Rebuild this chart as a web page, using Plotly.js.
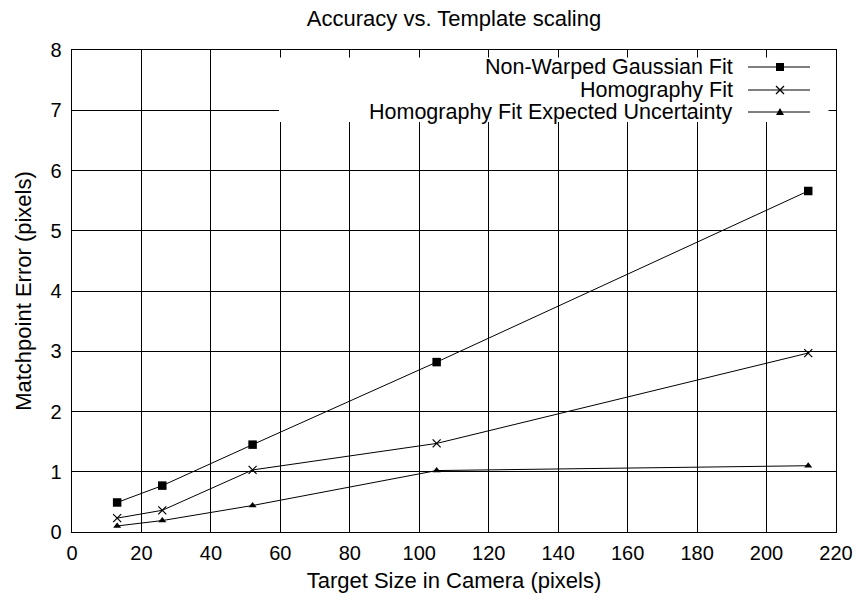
<!DOCTYPE html>
<html>
<head>
<meta charset="utf-8">
<script src="https://cdn.plot.ly/plotly-3.0.1.min.js"></script>
<style>html,body{margin:0;padding:0;background:#fff;}#chart{width:857px;height:601px;}</style>
</head>
<body>
<div id="chart"></div>
<script>
// ---- data ----
const targetSize = [13, 26, 52, 105, 212];
const nonWarpedGaussian = [0.49, 0.77, 1.45, 2.82, 5.66];
const homographyFit = [0.23, 0.36, 1.03, 1.47, 2.97];
const homographyExpected = [0.10, 0.19, 0.44, 1.02, 1.10];
const seriesNames = ["Non-Warped Gaussian Fit", "Homography Fit", "Homography Fit Expected Uncertainty"];
const xTicks = [0, 20, 40, 60, 80, 100, 120, 140, 160, 180, 200, 220];
const yTicks = [0, 1, 2, 3, 4, 5, 6, 7, 8];

// ---- layout geometry ----
const W = 857, H = 601;
const M = {l: 72, r: 21, t: 50, b: 69};
const PW = W - M.l - M.r, PH = H - M.t - M.b;
const px = x => (x - M.l) / PW;
const py = y => (H - M.b - y) / PH;
const FONT = "Liberation Sans, Arial, Helvetica, sans-serif";

const symbols = ["square", "x-thin", "triangle-up"];
const markerSizes = [8.5, 8, 7];
const seriesY = [nonWarpedGaussian, homographyFit, homographyExpected];

const traces = seriesY.map((ys, i) => ({
  x: targetSize, y: ys, name: seriesNames[i], type: "scatter", mode: "lines+markers",
  line: {color: "#000", width: 1},
  marker: {symbol: symbols[i], size: markerSizes[i], color: "#000", line: {color: "#000", width: i === 1 ? 1.2 : 0}},
  showlegend: false
}));

// custom legend (text left of sample, as in the reference); white box leaves the frame ticks visible
const shapes = [{
  type: "rect", xref: "paper", yref: "paper", layer: "above",
  x0: px(279), x1: px(828.5), y0: py(122), y1: py(57.5),
  fillcolor: "#fff", line: {width: 0}
}];
const annotations = [];
const rows = [67, 90, 112];
const textRight = 735, lineX0 = 748, lineX1 = 810, mk = 780;
rows.forEach((ry, i) => {
  annotations.push({
    xref: "paper", yref: "paper", x: px(textRight), y: py(ry), xanchor: "right", yanchor: "middle",
    text: seriesNames[i], showarrow: false, font: {family: FONT, size: 21.5, color: "#000"}
  });
  shapes.push({type: "line", xref: "paper", yref: "paper", layer: "above",
    x0: px(lineX0), x1: px(lineX1), y0: py(ry), y1: py(ry), line: {color: "#000", width: 1}});
  if (i === 0) {
    shapes.push({type: "rect", xref: "paper", yref: "paper", layer: "above",
      x0: px(mk - 4), x1: px(mk + 4), y0: py(ry + 4), y1: py(ry - 4), fillcolor: "#000", line: {width: 0}});
  } else if (i === 1) {
    shapes.push({type: "line", xref: "paper", yref: "paper", layer: "above",
      x0: px(mk - 4), x1: px(mk + 4), y0: py(ry - 4), y1: py(ry + 4), line: {color: "#000", width: 1.2}});
    shapes.push({type: "line", xref: "paper", yref: "paper", layer: "above",
      x0: px(mk - 4), x1: px(mk + 4), y0: py(ry + 4), y1: py(ry - 4), line: {color: "#000", width: 1.2}});
  } else {
    const p = `M ${px(mk-4)} ${py(ry+3)} L ${px(mk+4)} ${py(ry+3)} L ${px(mk)} ${py(ry-4)} Z`;
    shapes.push({type: "path", xref: "paper", yref: "paper", layer: "above",
      path: p, fillcolor: "#000", line: {width: 0}});
  }
});

const axisCommon = {
  showline: true, linecolor: "#000", linewidth: 1.3, mirror: "ticks",
  ticks: "inside", ticklen: 7, tickcolor: "#000", tickwidth: 1,
  showgrid: true, gridcolor: "#000", gridwidth: 1, zeroline: false,
  tickfont: {family: FONT, size: 20, color: "#000"}, tickmode: "array"
};

const layout = {
  width: W, height: H, margin: M, paper_bgcolor: "#fff", plot_bgcolor: "#fff",
  title: {text: "Accuracy vs. Template scaling", font: {family: FONT, size: 22, color: "#000"},
    x: 0.5, xref: "paper", xanchor: "center", y: 1 - 18 / H, yref: "container", yanchor: "middle"},
  xaxis: Object.assign({}, axisCommon, {range: [0, 220], tickvals: xTicks, ticklabelstandoff: 3,
    title: {text: "Target Size in Camera (pixels)", font: {family: FONT, size: 22, color: "#000"}, standoff: 9}}),
  yaxis: Object.assign({}, axisCommon, {range: [0, 8], tickvals: yTicks, ticklabelstandoff: 5,
    title: {text: "Matchpoint Error (pixels)", font: {family: FONT, size: 22, color: "#000"}, standoff: 13}}),
  shapes: shapes, annotations: annotations, showlegend: false
};

Plotly.newPlot("chart", traces, layout, {displayModeBar: false, staticPlot: true});
</script>
</body>
</html>
